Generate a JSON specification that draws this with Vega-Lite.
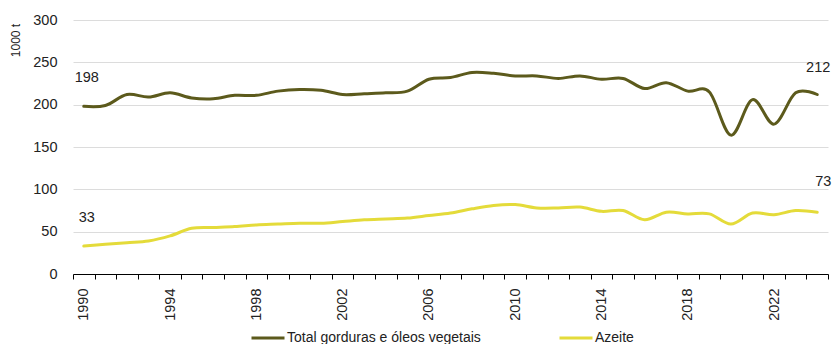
{
  "$schema": "https://vega.github.io/schema/vega-lite/v6.json",
  "width": 755,
  "height": 254,
  "autosize": {"type": "none"},
  "padding": {"left": 73, "top": 20, "right": 5, "bottom": 70},
  "background": "white",
  "config": {
    "view": {"stroke": null},
    "font": "Liberation Sans",
    "axis": {"labelFont": "Liberation Sans", "titleFont": "Liberation Sans", "labelColor": "#222222", "titleColor": "#222222"},
    "legend": {"labelFont": "Liberation Sans"}
  },
  "data": {
    "values": [
      {"year": 1990, "serie": "Total gorduras e óleos vegetais", "value": 198},
      {"year": 1991, "serie": "Total gorduras e óleos vegetais", "value": 199},
      {"year": 1992, "serie": "Total gorduras e óleos vegetais", "value": 212},
      {"year": 1993, "serie": "Total gorduras e óleos vegetais", "value": 209},
      {"year": 1994, "serie": "Total gorduras e óleos vegetais", "value": 214},
      {"year": 1995, "serie": "Total gorduras e óleos vegetais", "value": 208},
      {"year": 1996, "serie": "Total gorduras e óleos vegetais", "value": 207},
      {"year": 1997, "serie": "Total gorduras e óleos vegetais", "value": 211},
      {"year": 1998, "serie": "Total gorduras e óleos vegetais", "value": 211},
      {"year": 1999, "serie": "Total gorduras e óleos vegetais", "value": 216},
      {"year": 2000, "serie": "Total gorduras e óleos vegetais", "value": 218},
      {"year": 2001, "serie": "Total gorduras e óleos vegetais", "value": 217},
      {"year": 2002, "serie": "Total gorduras e óleos vegetais", "value": 212},
      {"year": 2003, "serie": "Total gorduras e óleos vegetais", "value": 213},
      {"year": 2004, "serie": "Total gorduras e óleos vegetais", "value": 214},
      {"year": 2005, "serie": "Total gorduras e óleos vegetais", "value": 216},
      {"year": 2006, "serie": "Total gorduras e óleos vegetais", "value": 230},
      {"year": 2007, "serie": "Total gorduras e óleos vegetais", "value": 232},
      {"year": 2008, "serie": "Total gorduras e óleos vegetais", "value": 238},
      {"year": 2009, "serie": "Total gorduras e óleos vegetais", "value": 237},
      {"year": 2010, "serie": "Total gorduras e óleos vegetais", "value": 234},
      {"year": 2011, "serie": "Total gorduras e óleos vegetais", "value": 234},
      {"year": 2012, "serie": "Total gorduras e óleos vegetais", "value": 231},
      {"year": 2013, "serie": "Total gorduras e óleos vegetais", "value": 234},
      {"year": 2014, "serie": "Total gorduras e óleos vegetais", "value": 230},
      {"year": 2015, "serie": "Total gorduras e óleos vegetais", "value": 231},
      {"year": 2016, "serie": "Total gorduras e óleos vegetais", "value": 219},
      {"year": 2017, "serie": "Total gorduras e óleos vegetais", "value": 226},
      {"year": 2018, "serie": "Total gorduras e óleos vegetais", "value": 216},
      {"year": 2019, "serie": "Total gorduras e óleos vegetais", "value": 215},
      {"year": 2020, "serie": "Total gorduras e óleos vegetais", "value": 164},
      {"year": 2021, "serie": "Total gorduras e óleos vegetais", "value": 206},
      {"year": 2022, "serie": "Total gorduras e óleos vegetais", "value": 177},
      {"year": 2023, "serie": "Total gorduras e óleos vegetais", "value": 214},
      {"year": 2024, "serie": "Total gorduras e óleos vegetais", "value": 212},
      {"year": 1990, "serie": "Azeite", "value": 33},
      {"year": 1991, "serie": "Azeite", "value": 35},
      {"year": 1992, "serie": "Azeite", "value": 37},
      {"year": 1993, "serie": "Azeite", "value": 39},
      {"year": 1994, "serie": "Azeite", "value": 45},
      {"year": 1995, "serie": "Azeite", "value": 54},
      {"year": 1996, "serie": "Azeite", "value": 55},
      {"year": 1997, "serie": "Azeite", "value": 56},
      {"year": 1998, "serie": "Azeite", "value": 58},
      {"year": 1999, "serie": "Azeite", "value": 59},
      {"year": 2000, "serie": "Azeite", "value": 60},
      {"year": 2001, "serie": "Azeite", "value": 60},
      {"year": 2002, "serie": "Azeite", "value": 62},
      {"year": 2003, "serie": "Azeite", "value": 64},
      {"year": 2004, "serie": "Azeite", "value": 65},
      {"year": 2005, "serie": "Azeite", "value": 66},
      {"year": 2006, "serie": "Azeite", "value": 69},
      {"year": 2007, "serie": "Azeite", "value": 72},
      {"year": 2008, "serie": "Azeite", "value": 77},
      {"year": 2009, "serie": "Azeite", "value": 81},
      {"year": 2010, "serie": "Azeite", "value": 82},
      {"year": 2011, "serie": "Azeite", "value": 78},
      {"year": 2012, "serie": "Azeite", "value": 78},
      {"year": 2013, "serie": "Azeite", "value": 79},
      {"year": 2014, "serie": "Azeite", "value": 74},
      {"year": 2015, "serie": "Azeite", "value": 75},
      {"year": 2016, "serie": "Azeite", "value": 64},
      {"year": 2017, "serie": "Azeite", "value": 73},
      {"year": 2018, "serie": "Azeite", "value": 71},
      {"year": 2019, "serie": "Azeite", "value": 71},
      {"year": 2020, "serie": "Azeite", "value": 59},
      {"year": 2021, "serie": "Azeite", "value": 72},
      {"year": 2022, "serie": "Azeite", "value": 70},
      {"year": 2023, "serie": "Azeite", "value": 75},
      {"year": 2024, "serie": "Azeite", "value": 73}
    ]
  },
  "encoding": {
    "x": {
      "field": "year",
      "type": "quantitative",
      "scale": {"domain": [1989.5, 2024.5], "nice": false, "zero": false},
      "axis": {
        "title": null,
        "grid": false,
        "values": [1989.5, 1990, 1990.5, 1991.5, 1992.5, 1993.5, 1994, 1994.5, 1995.5, 1996.5, 1997.5, 1998, 1998.5, 1999.5, 2000.5, 2001.5, 2002, 2002.5, 2003.5, 2004.5, 2005.5, 2006, 2006.5, 2007.5, 2008.5, 2009.5, 2010, 2010.5, 2011.5, 2012.5, 2013.5, 2014, 2014.5, 2015.5, 2016.5, 2017.5, 2018, 2018.5, 2019.5, 2020.5, 2021.5, 2022, 2022.5, 2023.5, 2024.5],
        "labelExpr": "datum.value % 1 === 0 ? format(datum.value, 'd') : ''",
        "tickOpacity": {"condition": {"test": "datum.value % 1 === 0", "value": 0}, "value": 1},
        "labelOverlap": false,
        "labelFlush": false,
        "labelAngle": -90,
        "labelAlign": "right",
        "labelBaseline": "middle",
        "labelFontSize": 14.5,
        "labelPadding": 9,
        "tickSize": 5,
        "tickColor": "#000000",
        "domainColor": "#000000",
        "domainWidth": 1,
        "tickWidth": 1
      }
    },
    "y": {
      "field": "value",
      "type": "quantitative",
      "scale": {"domain": [0, 300], "nice": false},
      "axis": {
        "title": "1000 t",
        "titleFontSize": 12,
        "titleFontWeight": "normal",
        "titleAngle": -90,
        "titleX": -58,
        "titleY": 20,
        "titleAlign": "center",
        "titleBaseline": "middle",
        "values": [0, 50, 100, 150, 200, 250, 300],
        "domain": false,
        "ticks": false,
        "tickSize": 0,
        "labelPadding": 16,
        "labelFontSize": 14.5,
        "gridColor": "#dcdcdc",
        "gridWidth": 1
      }
    }
  },
  "layer": [
    {
      "mark": {"type": "line", "interpolate": "cardinal", "strokeWidth": 3, "strokeCap": "round"},
      "encoding": {
        "color": {
          "field": "serie",
          "type": "nominal",
          "scale": {"domain": ["Total gorduras e óleos vegetais", "Azeite"], "range": ["#5c5a1c", "#e4db3a"]},
          "legend": {
            "title": null,
            "orient": "none",
            "direction": "horizontal",
            "legendX": 177,
            "legendY": 300,
            "symbolType": "stroke",
            "symbolSize": 1089,
            "symbolStrokeWidth": 3,
            "labelFontSize": 14,
            "labelLimit": 400,
            "labelColor": "#222222",
            "labelOffset": 1,
            "columnPadding": 72,
            "padding": 0
          }
        }
      }
    },
    {
      "transform": [{"filter": "datum.year === 1990"}],
      "mark": {"type": "text", "fontSize": 14.5, "color": "#222222", "dy": -28, "dx": 3, "align": "center"},
      "encoding": {"text": {"field": "value", "type": "quantitative", "format": "d"}}
    },
    {
      "transform": [{"filter": "datum.year === 2024 && datum.serie === 'Total gorduras e óleos vegetais'"}],
      "mark": {"type": "text", "fontSize": 14.5, "color": "#222222", "dy": -27, "dx": 1, "align": "center"},
      "encoding": {"text": {"field": "value", "type": "quantitative", "format": "d"}}
    },
    {
      "transform": [{"filter": "datum.year === 2024 && datum.serie === 'Azeite'"}],
      "mark": {"type": "text", "fontSize": 14.5, "color": "#222222", "dy": -30, "dx": -2, "align": "left"},
      "encoding": {"text": {"field": "value", "type": "quantitative", "format": "d"}}
    }
  ]
}
